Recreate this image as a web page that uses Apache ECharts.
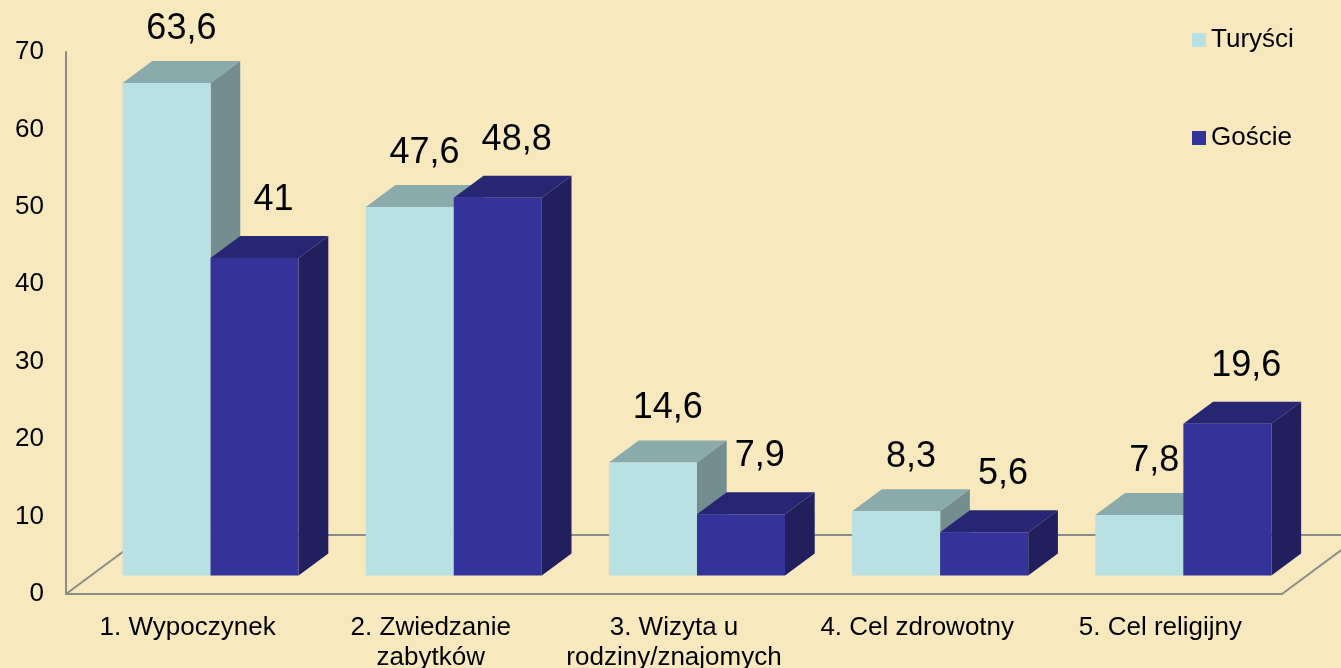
<!DOCTYPE html>
<html>
<head>
<meta charset="utf-8">
<title>Turyści i goście</title>
<script src="https://cdn.jsdelivr.net/npm/echarts@6/dist/echarts.min.js"></script>
<style>
  html, body { margin: 0; padding: 0; background: #F7E8BE; }
  #main { width: 1341px; height: 668px; }
</style>
</head>
<body>
<div id="main"></div>
<script>
var categories = ['1. Wypoczynek', '2. Zwiedzanie\nzabytków', '3. Wizyta u\nrodziny/znajomych', '4. Cel zdrowotny', '5. Cel religijny'];
var turysci = [63.6, 47.6, 14.6, 8.3, 7.8];
var goscie = [41, 48.8, 7.9, 5.6, 19.6];
var yTicks = [0, 10, 20, 30, 40, 50, 60, 70];

var FONT = '"Liberation Sans", Arial, sans-serif';
var GREY = '#8C8C8C';
// 3d look (px): floor depth, slant of depth lines, bar depth
var FLOOR = 59;
var SLANT = 1.35;
var DEPTH = 22;
var INSET = (FLOOR - DEPTH) / 2;

function fmt(v) {
  return String(v).replace('.', ',');
}

// one box per value; slot 0 = left bar of the pair, 1 = right bar
function barRenderer(slot, c) {
  return function (params, api) {
    var i = api.value(0), v = api.value(1);
    var base = api.coord([i, 0]);
    var top = api.coord([i, v]);
    var w = api.size([1, 0])[0] * 0.362;
    var dx = DEPTH * SLANT, dy = DEPTH;
    var x0 = base[0] + INSET * SLANT - 2 - (slot === 0 ? w : 0);
    var x1 = x0 + w;
    var yb = base[1] - INSET, yt = top[1] - INSET;
    return {
      type: 'group',
      children: [
        { type: 'polygon', shape: { points: [[x0, yt], [x0 + dx, yt - dy], [x1 + dx, yt - dy], [x1, yt]] }, style: { fill: c.top } },
        { type: 'polygon', shape: { points: [[x1, yt], [x1 + dx, yt - dy], [x1 + dx, yb - dy], [x1, yb]] }, style: { fill: c.side } },
        { type: 'rect', shape: { x: x0, y: yt, width: w, height: yb - yt }, style: { fill: c.front } },
        { type: 'text', x: (x0 + x1 + dx) / 2 + slot * 4, y: yt - 54 - slot * 4, style: { text: fmt(v), font: '36px ' + FONT, fill: '#000', align: 'center', verticalAlign: 'middle' } }
      ]
    };
  };
}

function floorRenderer(params, api) {
  var cs = params.coordSys;
  var x0 = cs.x, x1 = cs.x + cs.width, yb = cs.y + cs.height;
  var dx = FLOOR * SLANT, dy = FLOOR;
  return {
    type: 'group',
    children: [
      { type: 'polyline', shape: { points: [[x0, yb], [x0 + dx, yb - dy], [x1 + dx, yb - dy]] }, style: { stroke: GREY, lineWidth: 2, fill: null } },
      { type: 'line', shape: { x1: x1, y1: yb, x2: x1 + dx, y2: yb - dy }, style: { stroke: GREY, lineWidth: 2 } }
    ]
  };
}

var colT = { front: '#B9E0E2', top: '#8BAAAC', side: '#748E90' };
var colG = { front: '#333399', top: '#262673', side: '#221F5F' };

var option = {
  backgroundColor: '#F7E8BE',
  animation: false,
  textStyle: { fontFamily: FONT },
  grid: { left: 66, right: 59, top: 52, bottom: 74, containLabel: false, outerBoundsMode: 'none' },
  legend: {
    data: ['Turyści', 'Goście'],
    orient: 'vertical',
    left: 1187,
    top: 22,
    icon: 'rect',
    itemWidth: 14,
    itemHeight: 14,
    itemGap: 72,
    textStyle: { fontSize: 26, color: '#000', fontFamily: FONT }
  },
  xAxis: {
    type: 'category',
    data: categories,
    axisLine: { lineStyle: { color: GREY, width: 2 } },
    axisTick: { show: false },
    axisLabel: { interval: 0, fontSize: 26, lineHeight: 30, margin: 19, color: '#000', fontFamily: FONT }
  },
  yAxis: {
    type: 'value',
    min: yTicks[0],
    max: yTicks[yTicks.length - 1],
    interval: yTicks[1] - yTicks[0],
    axisLine: { show: true, lineStyle: { color: GREY, width: 2 } },
    axisTick: { show: false },
    splitLine: { show: false },
    axisLabel: { fontSize: 26, margin: 22, color: '#000', fontFamily: FONT }
  },
  series: [
    {
      type: 'custom',
      name: 'floor',
      silent: true,
      clip: false,
      z: 1,
      renderItem: floorRenderer,
      data: [[0, 0]]
    },
    {
      type: 'custom',
      name: 'Turyści',
      clip: false,
      z: 2,
      itemStyle: { color: colT.front },
      renderItem: barRenderer(0, colT),
      data: turysci.map(function (v, i) { return [i, v]; })
    },
    {
      type: 'custom',
      name: 'Goście',
      clip: false,
      z: 2,
      itemStyle: { color: colG.front },
      renderItem: barRenderer(1, colG),
      data: goscie.map(function (v, i) { return [i, v]; })
    }
  ]
};

var myChart = echarts.init(document.getElementById('main'));
myChart.setOption(option);
</script>
</body>
</html>
